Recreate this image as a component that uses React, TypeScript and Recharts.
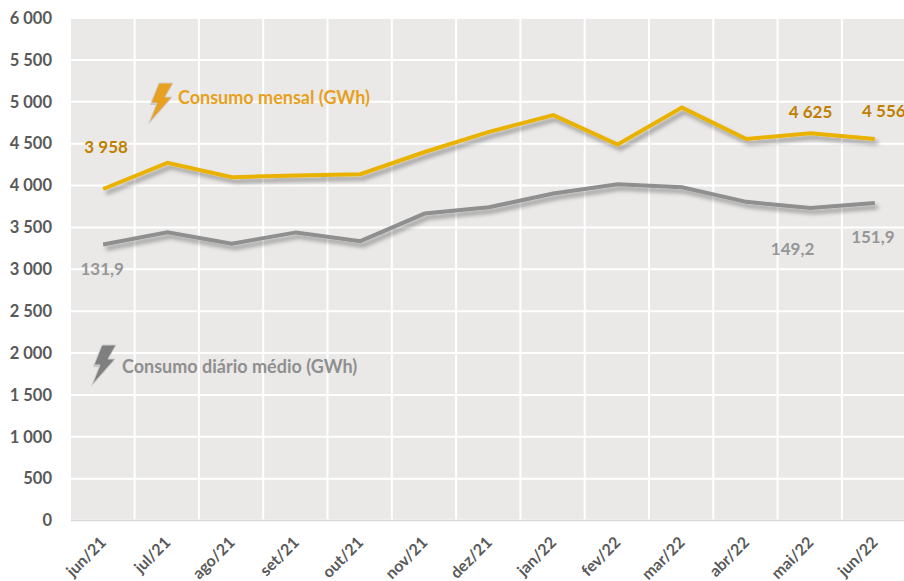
import { CartesianGrid, LabelList, Line, LineChart, XAxis, YAxis } from 'recharts';

const months = ['jun/21', 'jul/21', 'ago/21', 'set/21', 'out/21', 'nov/21', 'dez/21', 'jan/22', 'fev/22', 'mar/22', 'abr/22', 'mai/22', 'jun/22'];
const monthly = [3958, 4270, 4100, 4120, 4135, 4400, 4640, 4840, 4490, 4930, 4555, 4625, 4556];
const daily = [3295, 3440, 3305, 3440, 3335, 3665, 3740, 3905, 4015, 3980, 3805, 3730, 3790];
const monthlyLabels = ['3 958', '', '', '', '', '', '', '', '', '', '', '4 625', '4 556'];
const dailyLabels = ['131,9', '', '', '', '', '', '', '', '', '', '', '149,2', '151,9'];
const yTicks = [0, 500, 1000, 1500, 2000, 2500, 3000, 3500, 4000, 4500, 5000, 5500, 6000];

const chartData = months.map((month, i) => ({
  month,
  monthly: monthly[i],
  daily: daily[i],
  monthlyLabel: monthlyLabels[i],
  dailyLabel: dailyLabels[i],
}));

const font = 'Lato, Carlito, sans-serif';
const orange = '#eab200';
const gray = '#8f8f8f';
const bandWidth = 64.3;

const formatTick = (v: number) => String(v).replace(/\B(?=(\d{3})+$)/g, ' ');

// label nudges by index, the excel original had these dragged by hand
const monthlyNudge: Record<number, [number, number]> = { 0: [3, -36], 11: [0, -15], 12: [9, -22] };
const dailyNudge: Record<number, [number, number]> = { 0: [-1, 30], 11: [-18, 47], 12: [-2, 40] };

function pointLabel(color: string, nudge: Record<number, [number, number]>) {
  return (props: any) => {
    const { x, y, value, index } = props;
    if (!value) return null;
    const [dx, dy] = nudge[index] ?? [0, 0];
    return (
      <text x={x + dx} y={y + dy} textAnchor="middle" fill={color} fontFamily={font} fontWeight={700} fontSize={17}>
        {value}
      </text>
    );
  };
}

function MonthTick({ x, y, payload }: any) {
  return (
    <text
      x={x + 4}
      y={y + 15}
      textAnchor="end"
      fill="#595959"
      fontFamily={font}
      fontWeight={700}
      fontSize={16}
      transform={`rotate(-45 ${x + 4} ${y + 15})`}
    >
      {payload.value}
    </text>
  );
}

function Bolt({ left, top, color }: { left: number; top: number; color: string }) {
  return (
    <svg width={34} height={48} style={{ position: 'absolute', left, top, overflow: 'visible' }}>
      <polygon points="13,2 27,2 19,16 26,16 3,42 11,22 5,22" fill="#777" opacity={0.3} transform="translate(-1 2)" />
      <polygon points="13,2 27,2 19,16 26,16 3,42 11,22 5,22" fill={color} stroke="#cfcfcf" strokeWidth={1} />
    </svg>
  );
}

export default function App() {
  return (
    <div style={{ position: 'fixed', left: 0, top: 0, width: 904, height: 581, overflow: 'hidden', background: '#fff' }}>
      <LineChart
        width={910}
        height={581}
        data={chartData}
        margin={{ top: 18, right: 3, bottom: 0, left: 0 }}
      >
        <defs>
          <filter id="lineShadow" x="-5%" y="-30%" width="110%" height="180%" filterUnits="objectBoundingBox">
            <feDropShadow dx="3" dy="4" stdDeviation="2" floodColor="#000" floodOpacity="0.35" />
          </filter>
        </defs>
        <CartesianGrid
          fill="#eae9e8"
          stroke="#ffffff"
          strokeWidth={2}
          verticalCoordinatesGenerator={() => months.map((_, i) => 70.3 + bandWidth * (i + 1))}
        />
        <XAxis
          dataKey="month"
          interval={0}
          padding={{ left: bandWidth / 2, right: bandWidth / 2 }}
          tick={<MonthTick />}
          tickLine={false}
          axisLine={{ stroke: '#d9d9d9', strokeWidth: 1.5 }}
          height={60.5}
        />
        <YAxis
          width={71}
          domain={[0, 6000]}
          ticks={yTicks}
          interval={0}
          tickFormatter={formatTick}
          tickLine={false}
          axisLine={false}
          tickMargin={13}
          tick={{ fill: '#595959', fontFamily: font, fontWeight: 700, fontSize: 16.5 }}
        />
        <Line
          dataKey="monthly"
          stroke={orange}
          strokeWidth={4}
          strokeLinejoin="miter"
          dot={false}
          filter="url(#lineShadow)"
          isAnimationActive={false}
        >
          <LabelList dataKey="monthlyLabel" content={pointLabel('#c07f00', monthlyNudge)} />
        </Line>
        <Line
          dataKey="daily"
          stroke={gray}
          strokeWidth={4}
          strokeLinejoin="miter"
          dot={false}
          filter="url(#lineShadow)"
          isAnimationActive={false}
        >
          <LabelList dataKey="dailyLabel" content={pointLabel('#969696', dailyNudge)} />
        </Line>
      </LineChart>

      <Bolt left={146} top={81} color="#e8a020" />
      <Bolt left={89} top={343} color="#7f7f7f" />
      <div style={{ position: 'absolute', left: 178, top: 86, color: '#e8a020', font: `700 18px ${font}`, whiteSpace: 'nowrap' }}>
        Consumo mensal (GWh)
      </div>
      <div style={{ position: 'absolute', left: 122, top: 355, color: '#8f8f8f', font: `700 18px ${font}`, whiteSpace: 'nowrap' }}>
        Consumo diário médio (GWh)
      </div>
    </div>
  );
}
